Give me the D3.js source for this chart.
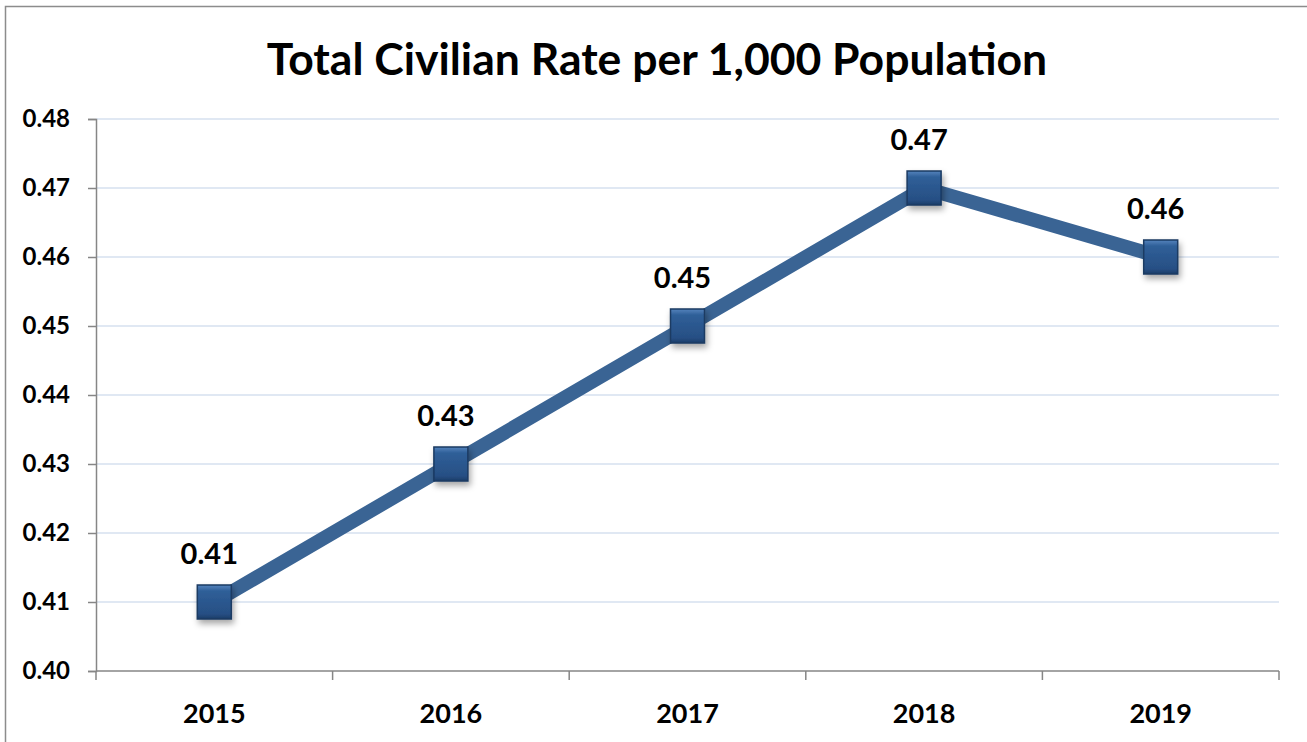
<!DOCTYPE html>
<html>
<head>
<meta charset="utf-8">
<script src="https://cdn.jsdelivr.net/npm/d3@7"></script>
<style>
  body { margin: 0; background: #fff; }
  svg { display: block; font-family: Lato, "Open Sans", sans-serif; font-weight: bold; }
</style>
</head>
<body>
<svg width="1307" height="742"></svg>
<script>
const years = ['2015', '2016', '2017', '2018', '2019'];
const rates = [0.41, 0.43, 0.45, 0.47, 0.46];
const yTicks = [0.40, 0.41, 0.42, 0.43, 0.44, 0.45, 0.46, 0.47, 0.48];

const svg = d3.select('svg');
const plotL = 96, plotR = 1279, plotT = 119, plotB = 671;

// outer frame
svg.append('rect')
  .attr('x', 5.5).attr('y', 6.5)
  .attr('width', 1320).attr('height', 760)
  .attr('fill', 'none').attr('stroke', '#8c8c8c').attr('stroke-width', 1.5);

svg.append('text')
  .attr('x', 657).attr('y', 75)
  .attr('text-anchor', 'middle')
  .attr('font-size', 44.5)
  .text('Total Civilian Rate per 1,000 Population');

const x = d3.scaleBand().domain(years).range([plotL, plotR]);
const y = d3.scaleLinear().domain([0.40, 0.48]).range([plotB, plotT]);

const defs = svg.append('defs');
const grad = defs.append('linearGradient').attr('id', 'mk')
  .attr('x1', 0).attr('y1', 0).attr('x2', 0).attr('y2', 1);
grad.append('stop').attr('offset', '0%').attr('stop-color', '#5583bd');
grad.append('stop').attr('offset', '18%').attr('stop-color', '#2f5f98');
grad.append('stop').attr('offset', '85%').attr('stop-color', '#274f84');
grad.append('stop').attr('offset', '100%').attr('stop-color', '#1b3c66');
const sh = defs.append('filter').attr('id', 'sh')
  .attr('x', '-50%').attr('y', '-50%').attr('width', '200%').attr('height', '200%');
sh.append('feDropShadow').attr('dx', 2).attr('dy', 4).attr('stdDeviation', 3)
  .attr('flood-color', '#000').attr('flood-opacity', 0.35);

// gridlines
svg.append('g')
  .selectAll('line')
  .data(yTicks.slice(1))
  .join('line')
  .attr('x1', plotL).attr('x2', plotR)
  .attr('y1', d => y(d)).attr('y2', d => y(d))
  .attr('stroke', '#d6e1ef').attr('stroke-width', 1.5);

// y axis
const yAxis = svg.append('g')
  .attr('transform', `translate(${plotL},0)`)
  .call(d3.axisLeft(y).tickValues(yTicks).tickFormat(d3.format('.2f')).tickSize(8).tickPadding(18));
yAxis.selectAll('path, line').attr('stroke', '#868686').attr('stroke-width', 1.5);
yAxis.selectAll('text').attr('font-size', 24).attr('fill', '#000')
  .attr('font-family', 'Lato, sans-serif').attr('font-weight', 'bold');

// x axis with ticks at category boundaries
const xAxis = svg.append('g')
  .attr('transform', `translate(0,${plotB})`);
xAxis.append('line')
  .attr('x1', plotL).attr('x2', plotR)
  .attr('stroke', '#868686').attr('stroke-width', 1.5);
xAxis.selectAll('.tk')
  .data([...years.map(d => x(d)), plotR])
  .join('line').attr('class', 'tk')
  .attr('x1', d => d).attr('x2', d => d)
  .attr('y1', 0).attr('y2', 9)
  .attr('stroke', '#868686').attr('stroke-width', 1.5);
xAxis.selectAll('text')
  .data(years)
  .join('text')
  .attr('x', d => x(d) + x.bandwidth() / 2)
  .attr('y', 52)
  .attr('text-anchor', 'middle')
  .attr('font-size', 27)
  .text(d => d);

const cx = (d, i) => x(years[i]) + x.bandwidth() / 2;

svg.append('path')
  .datum(rates)
  .attr('fill', 'none')
  .attr('stroke', '#3a6494')
  .attr('stroke-width', 14)
  .attr('d', d3.line().x(cx).y(d => y(d)));

const ms = 34;
svg.append('g')
  .selectAll('rect')
  .data(rates)
  .join('rect')
  .attr('x', (d, i) => cx(d, i) - ms / 2)
  .attr('y', d => y(d) - ms / 2)
  .attr('width', ms).attr('height', ms)
  .attr('fill', 'url(#mk)')
  .attr('stroke', '#1a3a62').attr('stroke-width', 1.5)
  .attr('filter', 'url(#sh)');

svg.append('g')
  .selectAll('text')
  .data(rates)
  .join('text')
  .attr('x', (d, i) => cx(d, i) - 5)
  .attr('y', d => y(d) - 38)
  .attr('text-anchor', 'middle')
  .attr('font-size', 29)
  .text(d => d3.format('.2f')(d));
</script>
</body>
</html>
